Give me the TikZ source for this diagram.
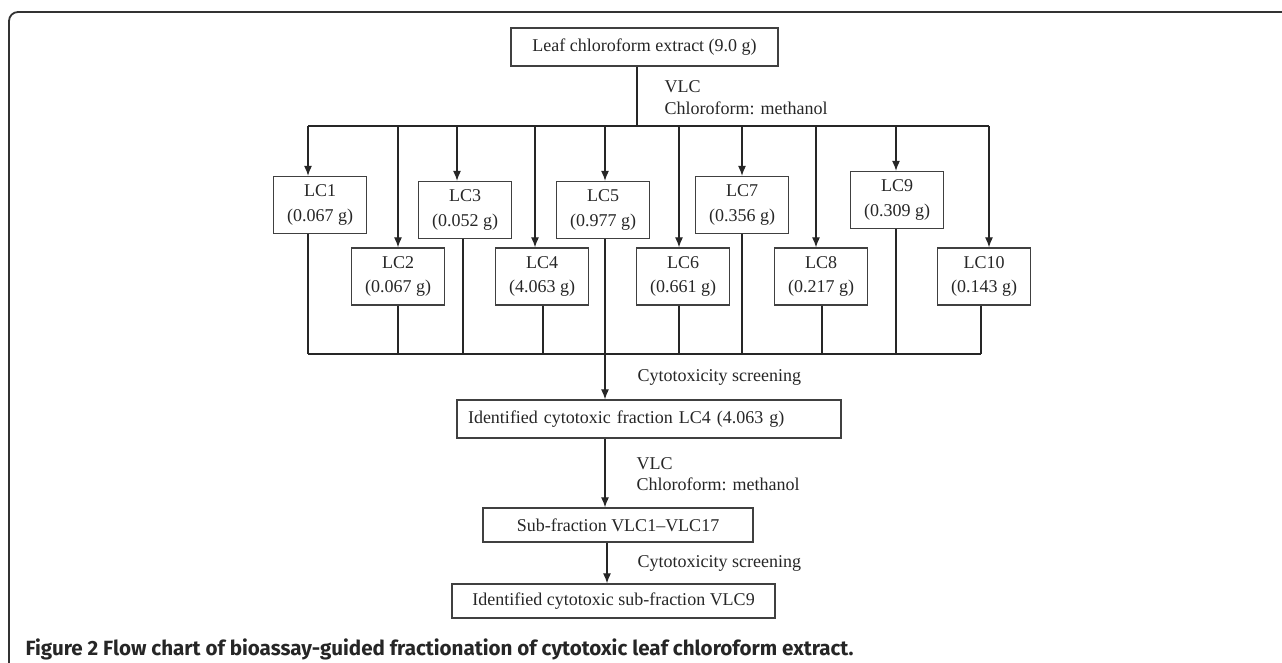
\documentclass[tikz,border=0pt]{standalone}
\usepackage{fontspec}
\setmainfont{Liberation Serif}
\newfontfamily\captionfont{Fira Sans}
\usetikzlibrary{arrows.meta}

\tikzset{
  flowbox/.style={rectangle, draw=black!75, line width=1.3pt, inner sep=0pt, align=center, font=\fontsize{18}{24.5}\selectfont},
  lcbox/.style={flowbox, minimum width=93pt, minimum height=57pt},
  steplabel/.style={inner sep=0pt, anchor=west, align=left, font=\fontsize{18}{21.5}\selectfont}
}

\begin{document}
\begin{tikzpicture}[x=1pt, y=-1pt, line width=1.2pt, color=black!85, >={Latex[length=10pt,width=8pt]}]

\useasboundingbox (0,0) rectangle (1282,662);

% outer frame
\draw[rounded corners=9pt, line width=1.8pt, black!80] (9,12) rectangle (1300,690);

%%%%%%%%%%%%%%%%%%%% Extract %%%%%%%%%%%%%%%%%%%%%%%%%%

\node[flowbox, minimum width=267pt, minimum height=38pt] (extract) at (644.5,47) {Leaf chloroform extract (9.0 g)};

\node[steplabel] (vlcA) at (664,97.5) {VLC\\Chloroform: methanol};

%%%%%%%%%%%%%%%%%%%% Fractions %%%%%%%%%%%%%%%%%%%%%%%%%%

%fraction boxes
\foreach \index/\mass/\xc/\yc in {1/0.067/320/205, 2/0.067/398/276.5, 3/0.052/465/210, 4/4.063/542/276.5, 5/0.977/603/210, 6/0.661/683/276.5, 7/0.356/742/205, 8/0.217/821/276.5, 9/0.309/897/200, 10/0.143/984/276.5}
{
    \node[lcbox] (LC\index) at (\xc,\yc) {LC\index\\(\mass~g)};
}

%bus points
\foreach \index/\xt/\xb in {1/308/308, 2/398/398, 3/457/463, 4/535/543, 5/605/605, 6/679/679, 7/742/742, 8/816/822, 9/896/896, 10/989/981}
{
    \coordinate (top\index) at (\xt,126);
    \coordinate (bot\index) at (\xb,354);
}
\coordinate (split) at (637,126);

%Draw upper bus
\draw (extract.south -| split) -- (split);
\draw (top1) -- (top10);
\foreach \index in {1,...,10}
{
    \draw[->] (top\index) -- (top\index |- LC\index.north);
}

%Draw lower bus
\draw (bot1) -- (bot10);
\foreach \index in {1,...,4,6,7,...,10}
{
    \draw (bot\index |- LC\index.south) -- (bot\index);
}

%%%%%%%%%%%%%%%%%%%% Screening %%%%%%%%%%%%%%%%%%%%%%%%%%

\node[flowbox, minimum width=384pt, minimum height=38pt, text width=362pt, align=left] (ident) at (649,419) {Identified cytotoxic fraction LC4 (4.063 g)};
\node[flowbox, minimum width=270pt, minimum height=34pt] (sub) at (618,525) {Sub-fraction VLC1--VLC17};
\node[flowbox, minimum width=323pt, minimum height=34pt] (final) at (613.5,601) {Identified cytotoxic sub-fraction VLC9};

\draw[->] (bot5 |- LC5.south) -- (bot5 |- ident.north);
\node[steplabel] (screenA) at (637,377) {Cytotoxicity screening};

\draw[->] (bot5 |- ident.south) -- (bot5 |- sub.north);
\node[steplabel] (vlcB) at (636,474) {VLC\\Chloroform: methanol};

\draw[->] ([xshift=2pt]bot5 |- sub.south) -- ([xshift=2pt]bot5 |- final.north);
\node[steplabel] (screenB) at (637,563) {Cytotoxicity screening};

% caption
\node[inner sep=0pt, anchor=base west, font=\captionfont\bfseries\fontsize{20.6}{24}\selectfont] (caption) at (25,655) {Figure 2 Flow chart of bioassay-guided fractionation of cytotoxic leaf chloroform extract.};

\end{tikzpicture}
\end{document}
